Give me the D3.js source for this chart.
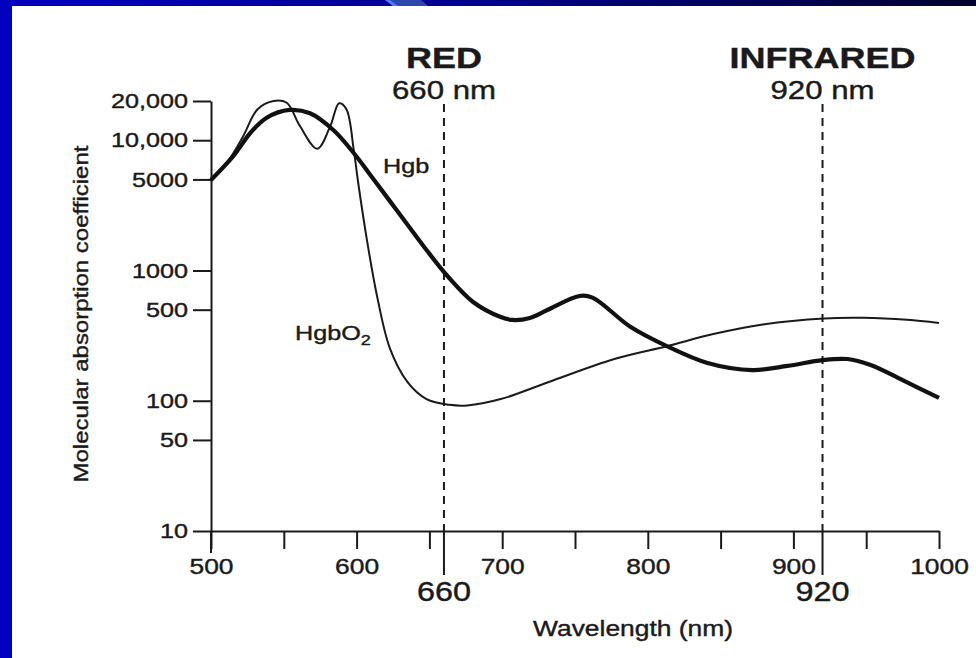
<!DOCTYPE html>
<html>
<head>
<meta charset="utf-8">
<script src="https://cdn.jsdelivr.net/npm/d3@7"></script>
<style>
  body { margin: 0; background: #fff; }
  svg { display: block; }
  text { font-family: "Liberation Sans", Arial, Helvetica, sans-serif; fill: #1a1a1a; stroke: #1a1a1a; stroke-width: 0.4px; }
</style>
</head>
<body>
<div id="chart"></div>
<script>
// Hgb (deoxyhemoglobin) - thick line
var hgbWave = [500, 515, 527, 538, 554, 568, 584, 598, 611, 630, 648, 663, 680, 699, 707, 719, 731, 753, 762, 788, 813, 841, 872, 896, 920, 937, 953, 975, 1000];
var hgbVal  = [4950, 7470, 11360, 14820, 17070, 16100, 11980, 7980, 5130, 2667, 1436, 891, 573, 439, 417, 432, 497, 637, 619, 370, 263, 195, 172, 185, 205, 209, 188, 144, 105];

// HgbO2 (oxyhemoglobin) - thin line
var hbo2Wave = [500, 512, 522, 532, 543, 552, 561, 573, 582, 588, 593, 598, 601, 607, 614, 623, 635, 648, 664, 676, 699, 731, 777, 813, 845, 879, 921, 948, 978, 1000];
var hbo2Val  = [4950, 7000, 10700, 17300, 20000, 19400, 12900, 8600, 12900, 19200, 17300, 8500, 4800, 1740, 640, 250, 139, 103, 93, 92, 103, 138, 209, 262, 325, 385, 428, 433, 418, 395];

// axis ticks
var yTicks = [10, 50, 100, 500, 1000, 5000, 10000, 20000];
var yTickLabels = ["10", "50", "100", "500", "1000", "5000", "10,000", "20,000"];
var xTicks = [500, 550, 600, 650, 700, 750, 800, 850, 900, 950, 1000];

// the two sensor wavelengths
var markerWave = [660, 920];
var markerName = ["RED", "INFRARED"];

var W = 976, H = 658;
var margin = {top: 101, left: 211},
    width = 728,
    height = 430;
var S = 1.2; // horizontal stretch of the lettering

var svg = d3.select("#chart").append("svg")
    .attr("width", W)
    .attr("height", H);

svg.append("rect").attr("width", W).attr("height", H).attr("fill", "#fff");

// slide frame (blue bars on top and left)
var grad = svg.append("defs").append("linearGradient")
    .attr("id", "topbar").attr("x1", 0).attr("x2", 1).attr("y1", 0).attr("y2", 0);
grad.append("stop").attr("offset", 0).attr("stop-color", "#0000c0");
grad.append("stop").attr("offset", 0.5).attr("stop-color", "#00008c");
grad.append("stop").attr("offset", 1).attr("stop-color", "#00002e");
svg.append("rect").attr("x", 0).attr("y", 0).attr("width", W).attr("height", 6).attr("fill", "url(#topbar)");
svg.append("polygon").attr("points", "385,0 421,0 428,6 393,6").attr("fill", "#2c46b0");
svg.append("polygon").attr("points", "385,0 390,0 398,6 393,6").attr("fill", "#4d7cf0");
svg.append("rect").attr("x", 0).attr("y", 0).attr("width", 12).attr("height", H).attr("fill", "#0000c0");

var g = svg.append("g")
    .attr("transform", "translate(" + margin.left + "," + margin.top + ")");

var x = d3.scaleLinear().domain([500, 1000]).range([0, width]);
var y = d3.scaleLog().domain([10, 20000]).range([height, 0]);

// axes
var yAxis = d3.axisLeft(y)
    .tickValues(yTicks)
    .tickFormat(function(d, i) { return yTickLabels[i]; })
    .tickSize(18)
    .tickSizeOuter(0)
    .tickPadding(5);

var xAxis = d3.axisBottom(x)
    .tickValues(xTicks)
    .tickFormat(function(d) { return d % 100 === 0 ? d : ""; })
    .tickSize(18)
    .tickSizeOuter(0)
    .tickPadding(9);

var gy = g.append("g").attr("class", "yaxis").call(yAxis);
var gx = g.append("g").attr("class", "xaxis")
    .attr("transform", "translate(0," + height + ")")
    .call(xAxis);

[gx, gy].forEach(function(a) {
  a.selectAll("path, line").attr("stroke", "#1a1a1a").attr("stroke-width", 2);
  a.selectAll("text")
    .style("font-size", "21px")
    .attr("fill", "#1a1a1a")
    .attr("transform", "scale(" + S + ",1)");
});
gy.selectAll("text").attr("x", -23 / S);
gx.selectAll("text").style("font-size", "22px");
// y axis runs on a little below the x axis
gy.append("line").attr("x1", 0).attr("x2", 0).attr("y1", height).attr("y2", height + 22)
  .attr("stroke", "#1a1a1a").attr("stroke-width", 2);

// sensor wavelength markers
markerWave.forEach(function(w, i) {
  var px = x(w);
  g.append("line")
    .attr("x1", px).attr("x2", px)
    .attr("y1", 3).attr("y2", height)
    .attr("stroke", "#1a1a1a").attr("stroke-width", 2)
    .attr("stroke-dasharray", "8,6");
  g.append("line")
    .attr("x1", px).attr("x2", px)
    .attr("y1", height).attr("y2", height + 44)
    .attr("stroke", "#1a1a1a").attr("stroke-width", 2);

  svg.append("text")
    .attr("transform", "translate(" + (margin.left + px) + ",68) scale(" + S + ",1)")
    .attr("text-anchor", "middle")
    .style("font-size", "30px")
    .style("font-weight", "bold")
    .text(markerName[i]);
  svg.append("text")
    .attr("transform", "translate(" + (margin.left + px) + ",99) scale(" + S + ",1)")
    .attr("text-anchor", "middle")
    .style("font-size", "26px")
    .text(w + " nm");
  svg.append("text")
    .attr("transform", "translate(" + (margin.left + px) + ",601) scale(" + S + ",1)")
    .attr("text-anchor", "middle")
    .style("font-size", "27px")
    .text(w);
});

// curves
var line = d3.line()
    .curve(d3.curveCatmullRom.alpha(0.5))
    .x(function(d) { return x(d[0]); })
    .y(function(d) { return y(d[1]); });

g.append("path")
    .datum(d3.zip(hbo2Wave, hbo2Val))
    .attr("d", line)
    .attr("fill", "none")
    .attr("stroke", "#1a1a1a")
    .attr("stroke-width", 2);

g.append("path")
    .datum(d3.zip(hgbWave, hgbVal))
    .attr("d", line)
    .attr("fill", "none")
    .attr("stroke", "#111")
    .attr("stroke-width", 4.2)
    .attr("stroke-linejoin", "round");

// curve labels
svg.append("text")
    .attr("transform", "translate(383,173) scale(" + S + ",1)")
    .style("font-size", "21px")
    .text("Hgb");

var o2 = svg.append("text")
    .attr("transform", "translate(295,340) scale(" + S + ",1)")
    .style("font-size", "21px");
o2.append("tspan").text("HgbO");
o2.append("tspan").attr("dy", 5).style("font-size", "15px").text("2");

// axis titles
svg.append("text")
    .attr("transform", "translate(633,636) scale(" + S + ",1)")
    .attr("text-anchor", "middle")
    .style("font-size", "22px")
    .text("Wavelength (nm)");

svg.append("text")
    .attr("transform", "translate(88,314) rotate(-90) scale(" + S + ",1)")
    .attr("text-anchor", "middle")
    .style("font-size", "20px")
    .text("Molecular absorption coefficient");
</script>
</body>
</html>
